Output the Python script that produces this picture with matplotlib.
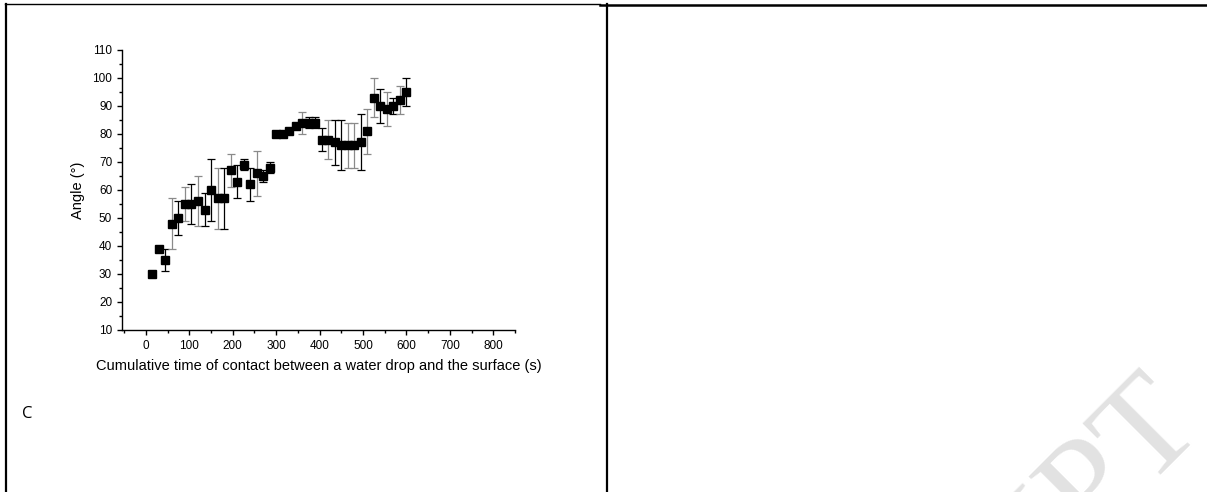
import numpy as np
import matplotlib
matplotlib.use("Agg")
import matplotlib.pyplot as plt
from matplotlib.lines import Line2D
from matplotlib.ticker import MultipleLocator

plt.rcParams['font.family'] = ['Liberation Sans', 'DejaVu Sans']

# data
time_s = [15, 30, 45, 60, 75, 90, 105, 120, 135, 150, 165, 180, 195, 210, 225,
          240, 255, 270, 285, 300, 315, 330, 345, 360, 375, 390, 405, 420, 435,
          450, 465, 480, 495, 510, 525, 540, 555, 570, 585, 600]
angle = [30, 39, 35, 48, 50, 55, 55, 56, 53, 60, 57, 57, 67, 63, 69,
         62, 66, 65, 68, 80, 80, 81, 83, 84, 84, 84, 78, 78, 77,
         76, 76, 76, 77, 81, 93, 90, 89, 90, 92, 95]
err = [0, 0, 4, 9, 6, 6, 7, 9, 6, 11, 11, 11, 6, 6, 2,
       6, 8, 2, 2, 0, 0, 0, 0, 4, 2, 2, 4, 7, 8,
       9, 8, 8, 10, 8, 7, 6, 6, 3, 5, 5]
gray_bar = [0, 0, 0, 1, 0, 1, 0, 1, 0, 0, 1, 0, 1, 0, 0,
            0, 1, 0, 0, 0, 0, 0, 0, 1, 0, 0, 0, 1, 0,
            0, 1, 1, 0, 1, 1, 0, 1, 0, 1, 0]

W, H = 1207, 492
fig = plt.figure(figsize=(W / 100, H / 100), dpi=100)
fig.patch.set_facecolor('white')

ax = fig.add_axes([122 / W, 1 - 330 / H, (515 - 122) / W, (330 - 50) / H])

for x, y, e, g in zip(time_s, angle, err, gray_bar):
    c = '#8a8a8a' if g else 'black'
    if e > 0:
        ax.errorbar(x, y, yerr=e, fmt='none', ecolor=c, elinewidth=0.9,
                    capsize=2.6, capthick=0.9, zorder=2)
ax.plot(time_s, angle, 's', color='black', markersize=5.8, zorder=3)

ax.set_xlim(-55, 850)
ax.set_ylim(10, 110)
ax.xaxis.set_major_locator(MultipleLocator(100))
ax.xaxis.set_minor_locator(MultipleLocator(50))
ax.yaxis.set_major_locator(MultipleLocator(10))
ax.yaxis.set_minor_locator(MultipleLocator(5))
for s in ['top', 'right']:
    ax.spines[s].set_visible(False)
for s in ['left', 'bottom']:
    ax.spines[s].set_linewidth(1.0)
ax.tick_params(which='major', direction='out', length=3.6, width=1.0, labelsize=8.5, pad=3.5)
ax.tick_params(which='minor', direction='out', length=2.0, width=1.0)
ax.set_xlabel('Cumulative time of contact between a water drop and the surface (s)',
              fontsize=10.5, labelpad=5)
ax.set_ylabel('Angle (°)', fontsize=10.5, labelpad=5)

# page table borders
fig.add_artist(Line2D([5 / W, 600 / W], [1 - 4.3 / H] * 2, color='black', lw=1.0))
fig.add_artist(Line2D([600 / W, 1], [1 - 5 / H] * 2, color='black', lw=1.8))
fig.add_artist(Line2D([6 / W] * 2, [0, 1 - 4 / H], color='black', lw=1.6))
fig.add_artist(Line2D([607.3 / W] * 2, [1 - 491 / H, 1 - 4 / H], color='black', lw=1.6))

fig.text(27 / W, 1 - 414 / H, 'C', fontsize=12, family=['Open Sans', 'DejaVu Sans'],
         ha='center', va='center')

# watermark, cut by the page edge as in the scan
fig.text(1206 / W, 1 - 430 / H, 'ACCEPTED MANUSCRIPT', fontsize=100,
         family=['Liberation Serif', 'DejaVu Serif'], color='#e2e2e2',
         rotation=45, rotation_mode='anchor', ha='right', va='baseline', zorder=0)

fig.savefig('out.png', dpi=100)
